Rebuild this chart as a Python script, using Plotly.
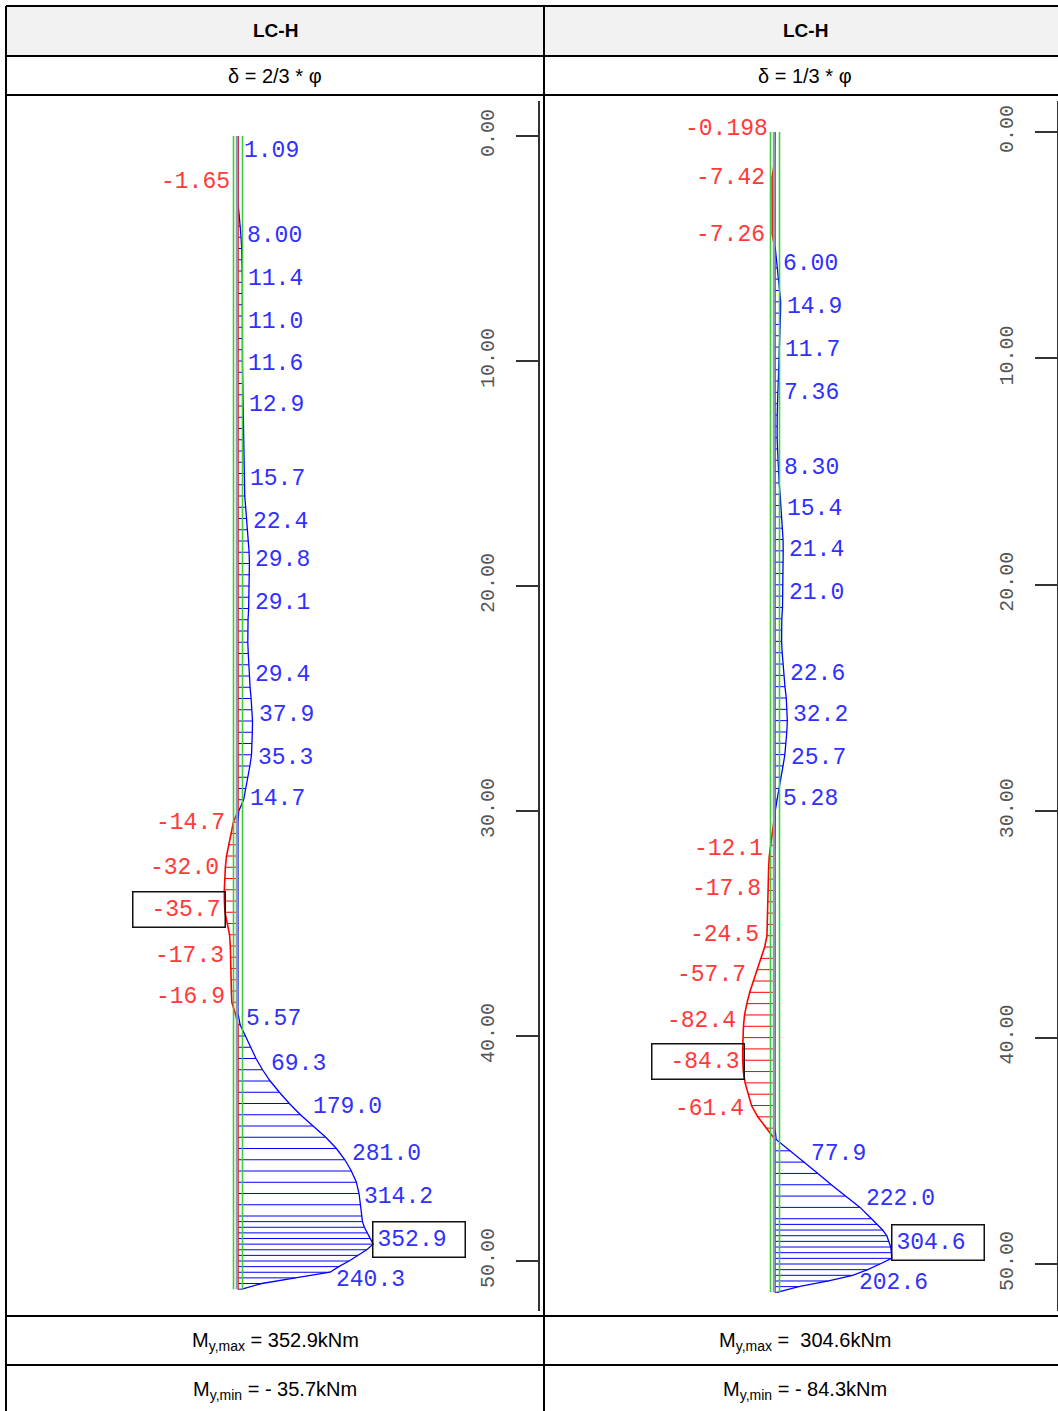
import plotly.graph_objects as go

W, H = 1058, 1411

# ---- data: bending moment My [kNm] along the pile depth [m] ----
LEFT_DEPTH = [
    0.0, 0.5, 1.0, 1.5, 2.0, 2.5, 3.0, 3.5, 4.0, 4.5, 5.0, 5.5, 6.0, 6.5, 7.0, 7.5,
    8.0, 8.5, 9.0, 9.5, 10.0, 10.5, 11.0, 11.5, 12.0, 12.5, 13.0, 13.5, 14.0, 14.5,
    15.0, 15.5, 16.0, 16.5, 17.0, 17.5, 18.0, 18.5, 19.0, 19.5, 20.0, 20.5, 21.0,
    21.5, 22.0, 22.5, 23.0, 23.5, 24.0, 24.5, 25.0, 25.5, 26.0, 26.5, 27.0, 27.5,
    28.0, 28.5, 29.0, 29.5, 30.0, 30.5, 31.0, 31.5, 32.0, 32.5, 33.0, 33.5, 34.0,
    34.5, 35.0, 35.5, 36.0, 36.5, 37.0, 37.5, 38.0, 38.5, 39.0, 39.5, 40.0, 40.5,
    41.0, 41.5, 42.0, 42.5, 43.0, 43.5, 44.0, 44.5, 45.0, 45.5, 46.0, 46.5, 47.0,
    47.5, 48.0, 48.25, 48.5, 48.75, 49.0, 49.25, 49.5, 49.75, 50.0, 50.25, 50.5,
    50.75, 51.0, 51.25,
]
LEFT_MOMENT = [
    0.4, 1.09, 0.4, -0.8, -1.65, -1.2, -0.4, 3.0, 6.0, 8.0, 9.5, 10.6, 11.2, 11.4, 11.3, 11.1,
    11.0, 11.0, 11.2, 11.4, 11.6, 11.9, 12.3, 12.6, 12.9, 13.3, 13.7, 14.1, 14.6, 15.0,
    15.4, 15.7, 17.6, 20.0, 22.4, 25.0, 27.4, 29.0, 29.8, 29.7, 29.4, 29.1, 27.8,
    26.2, 25.3, 25.6, 26.8, 28.2, 29.4, 31.6, 34.2, 36.6, 37.9, 37.4, 36.4, 35.3,
    31.0, 25.0, 19.0, 14.7, 2.0, -12.0, -18.0, -25.0, -30.0, -33.0, -34.8, -35.7, -35.5,
    -34.0, -28.0, -22.0, -20.0, -19.8, -19.3, -18.4, -17.3, -16.2, -7.0, 5.57, 20.0, 33.0,
    47.0, 64.0, 84.0, 108.0, 134.0, 163.0, 196.0, 229.0, 257.0, 279.0, 296.0, 309.0, 316.0,
    319.0, 322.0, 325.0, 330.0, 337.0, 345.0, 352.9, 336.0, 313.0, 290.0, 263.0, 240.3,
    150.0, 62.0, 10.0,
]

RIGHT_DEPTH = LEFT_DEPTH
RIGHT_MOMENT = [
    -0.198, -0.6, -1.6, -3.0, -7.42, -7.40, -7.36, -7.32, -7.29, -7.26, -2.0, 3.0, 6.0, 9.0, 12.0, 14.9,
    14.4, 13.2, 12.2, 11.7, 10.6, 9.4, 8.2, 7.36, 6.6, 5.8, 5.3, 5.6, 6.6, 7.6,
    8.3, 10.8, 13.4, 15.4, 17.6, 19.6, 21.0, 21.4, 21.4, 21.2, 21.1, 21.0, 19.6,
    17.8, 16.8, 17.2, 18.8, 20.6, 22.6, 26.0, 29.4, 31.6, 32.2, 30.8, 28.4, 25.7,
    21.0, 15.2, 10.0, 5.28, 0.6, -3.5, -7.5, -12.1, -15.0, -16.6, -17.4, -17.8, -18.3,
    -18.8, -19.5, -21.0, -27.0, -37.0, -47.5, -57.7, -66.0, -73.5, -79.5, -82.4, -83.8, -84.3,
    -84.3, -82.6, -78.0, -70.5, -61.4, -45.0, -22.0, 3.0, 40.0, 77.9, 112.0, 147.0, 183.0,
    222.0, 252.0, 267.0, 281.0, 292.0, 298.0, 302.0, 304.0, 304.6, 274.0, 242.0, 202.6,
    140.0, 62.0, 5.0,
]

LEFT_LABEL_TEXT = ["1.09", "-1.65", "8.00", "11.4", "11.0", "11.6", "12.9", "15.7", "22.4",
                   "29.8", "29.1", "29.4", "37.9", "35.3", "14.7", "-14.7", "-32.0", "-35.7",
                   "-17.3", "-16.9", "5.57", "69.3", "179.0", "281.0", "314.2", "352.9", "240.3"]
LEFT_LABEL_DEPTH = [0.65, 2.05, 4.45, 6.35, 8.25, 10.15, 11.95, 15.25, 17.15, 18.85, 20.75,
                    23.95, 25.75, 27.65, 29.45, 30.55, 32.55, 34.45, 36.45, 38.25, 39.25,
                    41.25, 43.15, 45.25, 47.15, 49.15, 50.85]

RIGHT_LABEL_TEXT = ["-0.198", "-7.42", "-7.26", "6.00", "14.9", "11.7", "7.36", "8.30", "15.4",
                    "21.4", "21.0", "22.6", "32.2", "25.7", "5.28", "-12.1", "-17.8", "-24.5",
                    "-57.7", "-82.4", "-84.3", "-61.4", "77.9", "222.0", "304.6", "202.6"]
RIGHT_LABEL_DEPTH = [-0.15, 2.05, 4.55, 5.85, 7.75, 9.65, 11.55, 14.85, 16.65, 18.45, 20.35,
                     23.95, 25.75, 27.65, 29.45, 31.65, 33.45, 35.45, 37.25, 39.25, 41.15,
                     43.15, 45.15, 47.15, 49.15, 50.85]

PILE_TOP, PILE_BOTTOM = 0.0, 51.25
DEPTH_TICKS = [0, 10, 20, 30, 40, 50]

HEADERS = ["LC-H", "LC-H"]
CASES = ["δ = 2/3 * φ", "δ = 1/3 * φ"]
MAX_TEXT = ["M<sub>y,max</sub> = 352.9kNm", "M<sub>y,max</sub> =\u00a0 304.6kNm"]
MIN_TEXT = ["M<sub>y,min</sub> = - 35.7kNm", "M<sub>y,min</sub> = - 84.3kNm"]

BLUE, RED = "#0000ff", "#ff0000"
BLUE_TXT, RED_TXT = "#3030ff", "#ff3a3a"
GREEN, PILE_GREY = "#3ccc3c", "#8c9bb0"
MONO = "Liberation Mono"
SANS = "Liberation Sans, Noto Sans, sans-serif"

# layout in pixels: (cell left, cell right, pile px, depth0 px, px per m)
PANELS = [
    dict(x0=7, x1=543, pile=238, d0=136, ppm=22.5, axis=539),
    dict(x0=545, x1=W, pile=775, d0=132, ppm=22.64, axis=W),
]
KNM_PX = 0.383  # px per kNm
PLOT_TOP, PLOT_BOT = 101, 1311


def px(v):
    return v / W


def py(v):
    return 1 - v / H


fig = go.Figure()
layout_axes = {}
annotations = []

panel_data = [
    (LEFT_DEPTH, LEFT_MOMENT, LEFT_LABEL_DEPTH, LEFT_LABEL_TEXT),
    (RIGHT_DEPTH, RIGHT_MOMENT, RIGHT_LABEL_DEPTH, RIGHT_LABEL_TEXT),
]

for i, (p, (depth, moment, lab_d, lab_t)) in enumerate(zip(PANELS, panel_data)):
    xa = "x" if i == 0 else "x2"
    ya = "y" if i == 0 else "y2"

    # hatching
    for sign, col in ((1, BLUE), (-1, RED)):
        hx, hy = [], []
        for d, m in zip(depth, moment):
            if m * sign > 0:
                hx += [0, m, None]
                hy += [d, d, None]
        fig.add_trace(go.Scatter(x=hx, y=hy, mode="lines", line=dict(color=col, width=1),
                                 xaxis=xa, yaxis=ya, hoverinfo="skip", showlegend=False))
    # moment line
    fig.add_trace(go.Scatter(x=[max(m, 0) for m in moment], y=depth, mode="lines",
                             line=dict(color=BLUE, width=1.3), xaxis=xa, yaxis=ya,
                             showlegend=False))
    fig.add_trace(go.Scatter(x=[min(m, 0) for m in moment], y=depth, mode="lines",
                             line=dict(color=RED, width=1.6), xaxis=xa, yaxis=ya,
                             showlegend=False))
    # pile
    fig.add_trace(go.Scatter(x=[-1 / KNM_PX, -1 / KNM_PX], y=[PILE_TOP, PILE_BOTTOM], mode="lines",
                             line=dict(color=PILE_GREY, width=2.5), xaxis=xa, yaxis=ya,
                             hoverinfo="skip", showlegend=False))
    for off in (-4.5, 4.5):
        fig.add_trace(go.Scatter(x=[off / KNM_PX, off / KNM_PX], y=[PILE_TOP, PILE_BOTTOM],
                                 mode="lines", line=dict(color=GREEN, width=1.6),
                                 xaxis=xa, yaxis=ya, hoverinfo="skip", showlegend=False))

    xr = [(p["x0"] - p["pile"]) / KNM_PX, (p["x1"] - p["pile"]) / KNM_PX]
    yr = [(PLOT_BOT - p["d0"]) / p["ppm"], (PLOT_TOP - p["d0"]) / p["ppm"]]
    sfx = "" if i == 0 else "2"
    layout_axes["xaxis" + sfx] = dict(domain=[px(p["x0"]), px(p["x1"])], range=xr, visible=False,
                                      anchor=ya)
    layout_axes["yaxis" + sfx] = dict(
        domain=[py(PLOT_BOT), py(PLOT_TOP)], range=yr, anchor="free",
        position=min(px(p["axis"]), 1.0), side="left",
        showline=True, linecolor="#333333", linewidth=1.5,
        ticks="outside", ticklen=22, tickwidth=1.5, tickcolor="#333333",
        tickvals=DEPTH_TICKS, ticktext=[f"{t:.2f}" for t in DEPTH_TICKS],
        tickangle=-90, tickfont=dict(family=MONO, size=20, color="#555555"),
        showgrid=False, zeroline=False, ticklabelstandoff=14,
    )

    # value labels
    vals = [float(t) for t in lab_t]
    vmax, vmin = max(vals), min(vals)
    for d, t, v in zip(lab_d, lab_t, vals):
        pos = v >= 0
        a = dict(x=v, y=d, xref=xa, yref=ya, text=t, showarrow=False,
                 font=dict(family=MONO, size=23, color=BLUE_TXT if pos else RED_TXT),
                 xanchor="left" if pos else "right", yanchor="middle",
                 xshift=4 if pos else -5)
        if v == vmax or v == vmin:
            a.update(bordercolor="#111111", borderwidth=1.5, borderpad=4, width=83, height=26,
                     align="left" if pos else "right", xshift=-1 if pos else 2, yshift=2)
        annotations.append(a)

# table text
cols = [275, 805]
for c, h, cs, mx, mn in zip(cols, HEADERS, CASES, MAX_TEXT, MIN_TEXT):
    for yy, txt, sz in ((31, f"<b>{h}</b>", 19), (76, cs, 20), (1341, mx, 20), (1390, mn, 20)):
        annotations.append(dict(x=px(c), y=py(yy), xref="paper", yref="paper", text=txt,
                                showarrow=False, xanchor="center", yanchor="middle",
                                font=dict(family=SANS, size=sz, color="#000000")))

# table grid
line = dict(color="#000000", width=2)
shapes = [dict(type="rect", xref="paper", yref="paper", x0=px(6), x1=1.0, y0=py(56), y1=py(6),
               fillcolor="#f2f2f2", line=dict(width=0), layer="below")]
for yy in (6, 56, 95, 1316, 1365):
    shapes.append(dict(type="line", xref="paper", yref="paper", x0=px(6), x1=1.0,
                       y0=py(yy), y1=py(yy), line=line))
for xx in (6, 544):
    shapes.append(dict(type="line", xref="paper", yref="paper", x0=px(xx), x1=px(xx),
                       y0=0, y1=py(6), line=line))

fig.update_layout(
    width=W, height=H,
    margin=dict(l=0, r=0, t=0, b=0),
    paper_bgcolor="white", plot_bgcolor="white",
    font=dict(family=SANS),
    showlegend=False,
    annotations=annotations,
    shapes=shapes,
    **layout_axes,
)

fig.write_html("out.html", config={"displayModeBar": False},
               post_script="document.body.style.margin = '0px';")
